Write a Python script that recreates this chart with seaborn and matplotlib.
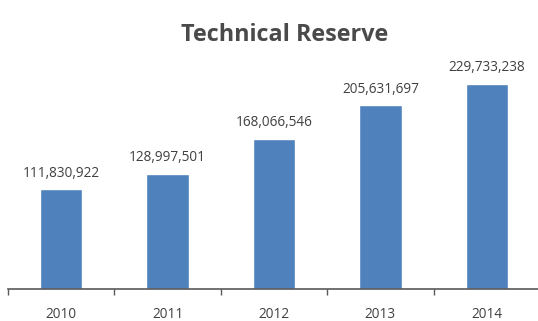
import matplotlib
matplotlib.use("Agg")
import matplotlib.pyplot as plt
import seaborn as sns
import pandas as pd

years = ["2010", "2011", "2012", "2013", "2014"]
values = [111830922, 128997501, 168066546, 205631697, 229733238]
title = "Technical Reserve"

sns.set_theme(style="white")
plt.rcParams['font.family'] = ['Open Sans', 'DejaVu Sans']

df = pd.DataFrame({"year": years, "value": values})

fig = plt.figure(figsize=(5.38, 3.21), dpi=100)
ax = fig.add_axes([8/538, (321-289)/321, 532/538, (289-60)/321])
sns.barplot(data=df, x="year", y="value", color="#4F81BD", saturation=1,
            width=0.4, ax=ax)

ax.set_xlim(-0.5, 4.5)
scale = 205.5 / values[-1]
ax.set_ylim(0, (289-60) / scale)

for i, v in enumerate(values):
    ax.annotate(f"{v:,}", (i, v), xytext=(0, 6), textcoords="offset points",
                ha="center", va="bottom", fontsize=9.8, color="#404040")

for s in ["top", "right", "left"]:
    ax.spines[s].set_visible(False)
ax.spines["bottom"].set_color("#595959")
ax.spines["bottom"].set_linewidth(1.2)
ax.set_yticks([])
ax.set_xlabel("")
ax.set_ylabel("")
ax.set_xticks(range(len(years)))
ax.set_xticklabels(years)
ax.tick_params(axis="x", which="major", length=0, pad=13, labelsize=9.8, labelcolor="#404040")
ax.set_xticks([i - 0.5 for i in range(len(years) + 1)], minor=True)
ax.tick_params(axis="x", which="minor", length=4, width=1, color="#595959", direction="out", bottom=True)

fig.text(285/538, 1 - 35/321, title, ha="center", va="center", fontsize=16.8,
         fontweight="bold", color="#4a4a4a")

fig.savefig("out.png", dpi=100)
